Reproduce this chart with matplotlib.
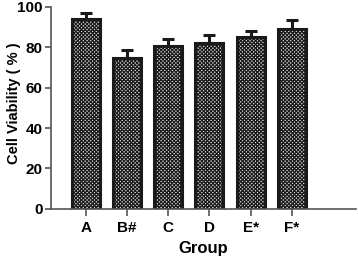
import numpy as np
import matplotlib.pyplot as plt

plt.rcParams['font.family'] = ['Liberation Sans', 'DejaVu Sans']
plt.rcParams['hatch.linewidth'] = 0.9
plt.rcParams['hatch.color'] = '#2a2a2a'

groups = ['A', 'B#', 'C', 'D', 'E*', 'F*']
viability = [94, 74.5, 80.7, 81.9, 84.9, 88.8]
sd = [3.0, 4.1, 3.2, 4.2, 3.1, 4.6]

fig = plt.figure(figsize=(3.58, 2.57), dpi=100)
ax = fig.add_axes([0.1425, 0.187, 0.852, 0.787])

x = np.arange(len(groups))
ax.bar(x, viability, width=0.68, color='#e0e0e0', edgecolor='#1a1a1a',
       linewidth=2.2, hatch='xxxxxxxxx', zorder=2)
ax.errorbar(x, viability, yerr=[np.zeros(len(sd)), sd], fmt='none',
            ecolor='#1a1a1a', elinewidth=2.2, capsize=4.5, capthick=2.2, zorder=1)

ax.set_xlim(-0.85, 6.56)
ax.set_ylim(0, 100)
ax.set_yticks([0, 20, 40, 60, 80, 100])
ax.set_xticks(x)
ax.set_xticklabels(groups)
for lab in ax.get_xticklabels() + ax.get_yticklabels():
    lab.set_fontweight('bold')
    lab.set_fontsize(11)

ax.spines['top'].set_visible(False)
ax.spines['right'].set_visible(False)
for s in ['left', 'bottom']:
    ax.spines[s].set_color('#555555')
    ax.spines[s].set_linewidth(1.2)
ax.tick_params(axis='y', direction='out', length=4, width=1.2, color='#555555', pad=2)
ax.tick_params(axis='x', direction='out', length=5, width=1.2, color='#555555', pad=4)

ax.set_xlabel('Group', fontsize=12, fontweight='bold', labelpad=4)
ax.set_ylabel('Cell Viability ( % )', fontsize=10.5, fontweight='bold')
ax.yaxis.set_label_coords(-0.1, 0.525)

fig.savefig('out.png', dpi=100)
